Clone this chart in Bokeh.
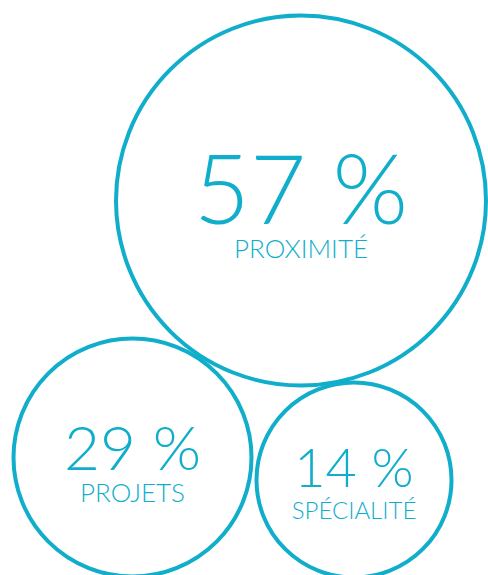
from bokeh.plotting import figure
from bokeh.models import ColumnDataSource, Range1d
from bokeh.core.properties import value
from bokeh.embed import file_html
from bokeh.resources import INLINE

# data
percents = [57, 29, 14]
labels = ["PROXIMITÉ", "PROJETS", "SPÉCIALITÉ"]

# layout (pixel coordinates, y down)
cx = [300.5, 132, 353.5]
cy = [200, 457, 479.5]
radius = [185, 119, 97.5]
num_base = [186, 445, 466]
lab_base = [247, 491, 509]
num_size = ["97px", "62px", "54px"]
lab_size = ["26px", "26px", "24px"]

COLOR = "#10AECB"
FONT = "Lato Light"

p = figure(width=488, height=575, output_backend="svg", toolbar_location=None,
           x_range=Range1d(0, 488), y_range=Range1d(575, 0), min_border=0)
p.axis.visible = False
p.grid.visible = False
p.outline_line_color = None
p.background_fill_color = "white"
p.border_fill_color = "white"

src = ColumnDataSource(dict(
    x=cx, y=cy, r=radius,
    num=[f"{v} %" for v in percents], lab=labels,
    ny=num_base, ly=lab_base, ns=num_size, ls=lab_size,
))

p.circle(x="x", y="y", radius="r", source=src, fill_color=None,
         line_color=COLOR, line_width=4)
p.text(x="x", y="ny", text="num", source=src, text_align="center",
       text_baseline="alphabetic", text_font=value(FONT), text_font_size="ns",
       text_color=COLOR)
p.text(x="x", y="ly", text="lab", source=src, text_align="center",
       text_baseline="alphabetic", text_font=value(FONT), text_font_size="ls",
       text_color=COLOR)

open("out.html", "w").write(file_html(p, INLINE))
